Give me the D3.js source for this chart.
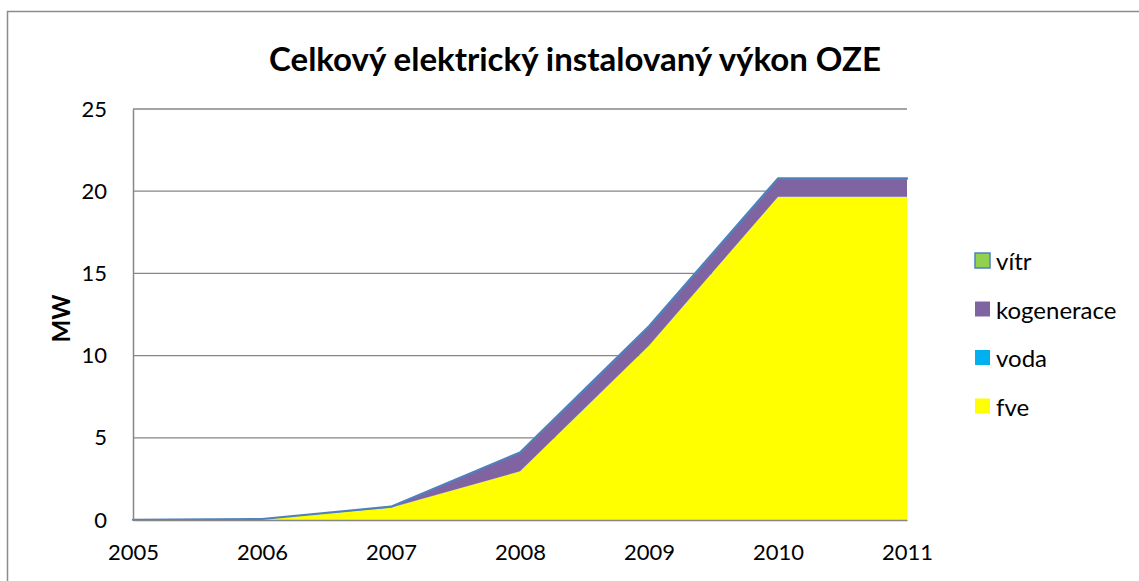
<!DOCTYPE html>
<html>
<head>
<meta charset="utf-8">
<script src="https://cdn.jsdelivr.net/npm/d3@7"></script>
<style>
  body { margin: 0; background: #fff; }
  text { font-family: Lato, "Open Sans", sans-serif; }
</style>
</head>
<body>
<div id="chart"></div>
<script>
// data
var years = ["2005", "2006", "2007", "2008", "2009", "2010", "2011"];
var fve = [0, 0.05, 0.75, 2.95, 10.6, 19.65, 19.65];
var voda = [0.01, 0.01, 0.01, 0.01, 0.01, 0.01, 0.01];
var kogenerace = [0, 0, 0.05, 1.15, 1.15, 1.1, 1.1];
var vitr = [0, 0, 0, 0, 0.02, 0.02, 0.02];
var seriesNames = ["fve", "voda", "kogenerace", "vítr"];
var seriesColors = ["#FFFF00", "#00B0F0", "#8064A2", "#92D050"];
var yTicks = [0, 5, 10, 15, 20, 25];

var W = 1139, H = 581;
var margin = { top: 109, right: 232, bottom: 61, left: 133 },
    width = W - margin.left - margin.right,
    height = H - margin.top - margin.bottom;

var svg = d3.select("#chart").append("svg")
    .attr("width", W).attr("height", H);

// outer chart border (only left and top visible)
svg.append("rect")
    .attr("x", 7.5).attr("y", 11.5)
    .attr("width", W + 20).attr("height", H + 20)
    .attr("fill", "none").attr("stroke", "#8c8c8c").attr("stroke-width", 1.5);

svg.append("text")
    .attr("x", 575).attr("y", 71)
    .attr("text-anchor", "middle")
    .style("font-size", "33px").style("font-weight", "bold")
    .text("Celkový elektrický instalovaný výkon OZE");

var g = svg.append("g")
    .attr("transform", "translate(" + margin.left + "," + margin.top + ")");

var x = d3.scalePoint().domain(years).range([0, width]);
var y = d3.scaleLinear().domain([0, 25]).range([height, 0]);

// gridlines
g.selectAll(".grid").data(yTicks.slice(1)).enter().append("line")
    .attr("x1", 0).attr("x2", width)
    .attr("y1", function (d) { return y(d); })
    .attr("y2", function (d) { return y(d); })
    .attr("stroke", "#868686").attr("stroke-width", 1.3);

// stacked areas
var table = years.map(function (yr, i) {
    return { year: yr, fve: fve[i], voda: voda[i], kogenerace: kogenerace[i], "vítr": vitr[i] };
});
var stack = d3.stack().keys(seriesNames)(table);
var area = d3.area()
    .x(function (d) { return x(d.data.year); })
    .y0(function (d) { return y(d[0]); })
    .y1(function (d) { return y(d[1]); });

g.selectAll(".area").data(stack).enter().append("path")
    .attr("d", area)
    .attr("fill", function (d, i) { return seriesColors[i]; })
    .attr("stroke", function (d, i) { return i === 3 ? "#4F81BD" : "none"; })
    .attr("stroke-width", 2.2)
    .attr("stroke-linejoin", "round");

// axes
var yAxis = g.append("g").call(d3.axisLeft(y).tickValues(yTicks).tickSize(0).tickPadding(26));
yAxis.select(".domain").attr("stroke", "#868686").attr("stroke-width", 1.5);
yAxis.selectAll("text").style("font-size", "22px").attr("fill", "#000");

var xAxis = g.append("g")
    .attr("transform", "translate(0," + height + ")")
    .call(d3.axisBottom(x).tickSize(0).tickPadding(24));
xAxis.select(".domain").attr("stroke", "#868686").attr("stroke-width", 1.5);
xAxis.selectAll("text").style("font-size", "22px").attr("fill", "#000");

svg.append("text")
    .attr("transform", "translate(70," + (margin.top + height / 2 + 4) + ") rotate(-90)")
    .attr("text-anchor", "middle")
    .style("font-size", "24px").style("font-weight", "bold")
    .text("MW");

// legend, reversed order
var legendItems = seriesNames.map(function (n, i) { return { name: n, color: seriesColors[i] }; }).reverse();
var lg = svg.selectAll(".legend").data(legendItems).enter().append("g")
    .attr("transform", function (d, i) { return "translate(975," + (253 + i * 48.5) + ")"; });
lg.append("rect")
    .attr("width", 15).attr("height", 15)
    .attr("fill", function (d) { return d.color; })
    .attr("stroke", function (d) { return d.name === "vítr" ? "#4F81BD" : "none"; })
    .attr("stroke-width", 1.5);
lg.append("text")
    .attr("x", 21).attr("y", 17)
    .style("font-size", "24px")
    .text(function (d) { return d.name; });
</script>
</body>
</html>
